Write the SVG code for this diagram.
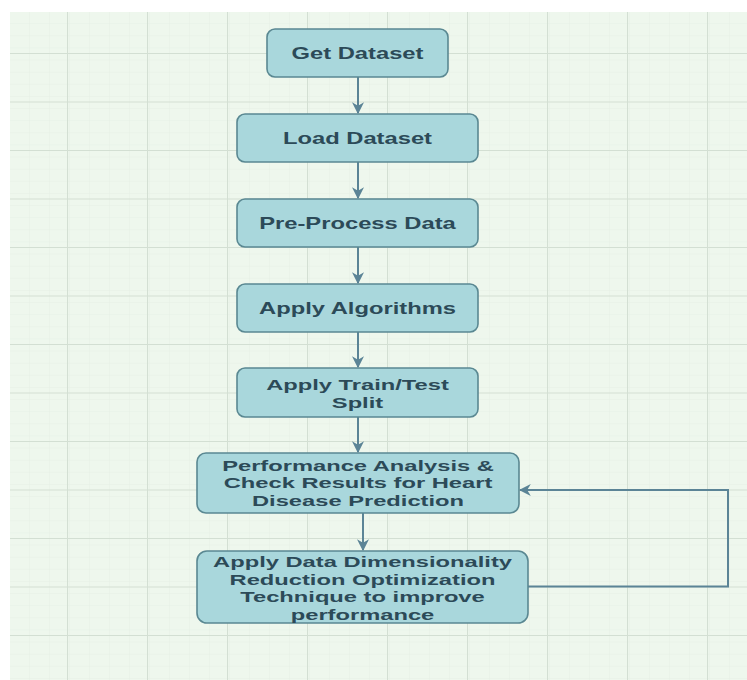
<svg xmlns="http://www.w3.org/2000/svg" width="747" height="680" viewBox="0 0 747 680">
  <defs>
    <pattern id="minor" x="10" y="12" width="20" height="12.125" patternUnits="userSpaceOnUse">
      <path d="M20,0 V12.125 M0,12.125 H20" fill="none" stroke="#e6f0e5" stroke-width="1"/>
    </pattern>
    <pattern id="major" x="67" y="53" width="80" height="48.5" patternUnits="userSpaceOnUse">
      <path d="M0.5,0 V48.5 M0,0.5 H80" fill="none" stroke="#d3dfd3" stroke-width="1.2"/>
    </pattern>
    <marker id="arr" viewBox="0 0 10 10" refX="9" refY="5" markerWidth="6" markerHeight="6" orient="auto" markerUnits="strokeWidth">
      <path d="M0,0 L10,5 L0,10 L3,5 z" fill="#5b8496"/>
    </marker>
  </defs>
  <style>
    .box { fill: #a9d7dc; stroke: #5a8892; stroke-width: 1.6; }
    .lbl { font-family: "Liberation Sans", Arial, sans-serif; font-weight: bold; font-size: 16.5px; fill: #2c4a58; text-anchor: middle; }
    .ml { font-size: 15px; }
    .conn { fill: none; stroke: #5b8496; stroke-width: 2; marker-end: url(#arr); }
  </style>

  <rect x="0" y="0" width="747" height="680" fill="#ffffff"/>
  <rect x="10" y="12" width="737" height="668" fill="#eef7ed"/>
  <rect x="10" y="12" width="737" height="668" fill="url(#minor)"/>
  <rect x="10" y="12" width="737" height="668" fill="url(#major)"/>

  <g id="connectors">
    <path class="conn" d="M358,77 V113"/>
    <path class="conn" d="M358,162 V198"/>
    <path class="conn" d="M358,247 V283"/>
    <path class="conn" d="M358,332 V367"/>
    <path class="conn" d="M358,417 V452" stroke="#6f90a0"/>
    <path class="conn" d="M363,513 V550"/>
    <path class="conn" d="M528,586.5 H728 V490 H520"/>
  </g>

  <g id="get-dataset">
    <rect class="box" x="267" y="29" width="181" height="48" rx="8"/>
    <g transform="translate(357.5,0) scale(1.44,1)">
      <text class="lbl" x="0" y="59">Get Dataset</text>
    </g>
  </g>

  <g id="load-dataset">
    <rect class="box" x="237" y="114" width="241" height="48" rx="8"/>
    <g transform="translate(357.5,0) scale(1.44,1)">
      <text class="lbl" x="0" y="144">Load Dataset</text>
    </g>
  </g>

  <g id="pre-process">
    <rect class="box" x="237" y="199" width="241" height="48" rx="8"/>
    <g transform="translate(357.5,0) scale(1.44,1)">
      <text class="lbl" x="0" y="229">Pre-Process Data</text>
    </g>
  </g>

  <g id="apply-algorithms">
    <rect class="box" x="237" y="284" width="241" height="48" rx="8"/>
    <g transform="translate(357.5,0) scale(1.44,1)">
      <text class="lbl" x="0" y="314">Apply Algorithms</text>
    </g>
  </g>

  <g id="train-test-split">
    <rect class="box" x="237" y="368" width="241" height="49" rx="8"/>
    <g transform="translate(357.5,0) scale(1.58,1)">
      <text class="lbl ml" x="0" y="390.2">Apply Train/Test</text>
      <text class="lbl ml" x="0" y="407.7">Split</text>
    </g>
  </g>

  <g id="performance-analysis">
    <rect class="box" x="197" y="453" width="322" height="60" rx="9"/>
    <g transform="translate(358,0) scale(1.58,1)">
      <text class="lbl ml" x="0" y="470.9">Performance Analysis &amp;</text>
      <text class="lbl ml" x="0" y="488.4">Check Results for Heart</text>
      <text class="lbl ml" x="0" y="505.9">Disease Prediction</text>
    </g>
  </g>

  <g id="dimensionality-reduction">
    <rect class="box" x="197" y="551" width="331" height="72" rx="10"/>
    <g transform="translate(362.5,0) scale(1.58,1)">
      <text class="lbl ml" x="0" y="567.1">Apply Data Dimensionality</text>
      <text class="lbl ml" x="0" y="584.6">Reduction Optimization</text>
      <text class="lbl ml" x="0" y="602.1">Technique to improve</text>
      <text class="lbl ml" x="0" y="619.6">performance</text>
    </g>
  </g>
</svg>
